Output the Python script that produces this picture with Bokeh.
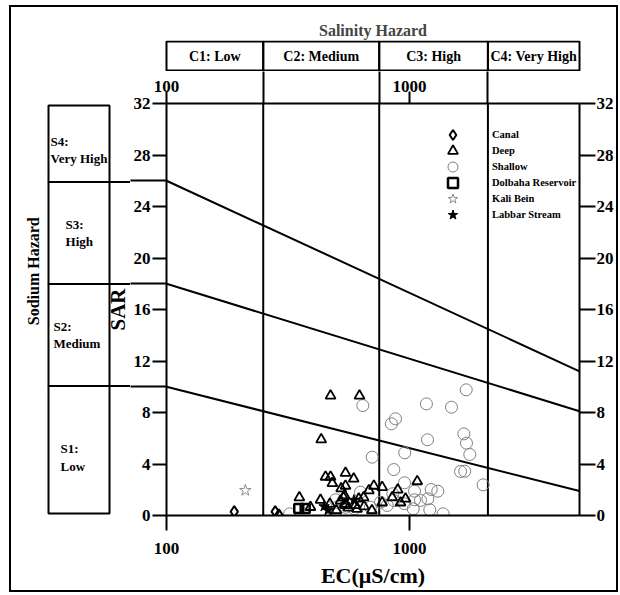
import numpy as np
from bokeh.plotting import figure
from bokeh.layouts import row, column
from bokeh.models import (Range1d, LogAxis, LinearAxis, FixedTicker, BasicTickFormatter,
                          Legend, LegendItem, Spacer)
from bokeh.embed import file_html
from bokeh.resources import INLINE
from bokeh.core.properties import value

FONT = "Liberation Serif"

# ---------------- data ----------------
canal_ec = [190, 280, 290]
canal_sar = [0.3, 0.3, 0.05]

deep_ec = [473, 622, 433, 451, 473, 545, 481, 545, 523, 352, 391, 540, 520, 541, 589,
           713, 771, 1075, 894, 680, 962, 535, 618, 647, 848, 918, 545, 599, 771, 608,
           430, 470, 500, 560, 650, 700]
deep_sar = [9.3, 9.3, 5.9, 3.0, 3.0, 3.3, 2.5, 2.3, 2.1, 1.4, 0.65, 1.55, 1.15, 0.9, 2.85,
            2.3, 2.2, 2.65, 2.0, 1.95, 1.3, 1.4, 1.3, 1.4, 1.4, 1.0, 0.8, 0.8, 1.0, 0.5,
            1.2, 0.9, 0.4, 0.6, 0.7, 0.4]

shallow_ec = [642, 1710, 1173, 1487, 875, 842, 1672, 1185, 1714, 1769, 955, 702, 861, 1620,
              1686, 2007, 953, 1048, 1227, 1306, 1048, 1109, 1189, 1035, 1211, 1374, 953,
              861, 809, 690, 593, 759, 628, 853, 321, 496, 503, 493, 545]
shallow_sar = [8.54, 9.76, 8.67, 8.41, 7.51, 7.12, 6.34, 5.88, 5.62, 4.74, 4.87, 4.53, 3.57,
               3.42, 3.44, 2.38, 2.54, 1.89, 2.02, 1.89, 1.22, 1.17, 1.30, 0.52, 0.44, 0.13,
               0.91, 1.17, 0.78, 0.64, 0.52, 1.03, 1.81, 1.69, 0.13, 1.22, 0.65, 0.13, 0.64]

dolbaha_ec = [350, 372]
dolbaha_sar = [0.55, 0.55]

kali_ec = [211]
kali_sar = [1.95]

labbar_ec = [445, 462, 590]
labbar_sar = [0.7, 0.4, 1.2]

ec_ticks = [100, 1000]
sar_ticks = [0, 4, 8, 12, 16, 20, 24, 28, 32]
salinity_bounds = [100, 250, 750, 2100, 5000]
salinity_labels = ["C1: Low", "C2: Medium", "C3: High", "C4: Very High"]
sodium_bounds = [0, 10, 18, 26, 32]
sodium_labels = ["S1:\nLow", "S2:\nMedium", "S3:\nHigh", "S4:\nVery High"]
sodium_label_sar = [4.4, 14.0, 22.0, 28.5]
line_ec = [100, 5000]
line_s1_s2 = [10, 1.9]
line_s2_s3 = [18, 8.1]
line_s3_s4 = [26, 11.2]
legend_labels = ["Canal", "Deep", "Shallow", "Dolbaha Reservoir", "Kali Bein", "Labbar Stream"]

# ---------------- main plot ----------------
x_range = Range1d(100, 5000)
y_range = Range1d(0, 32)

p = figure(width=486, height=519, x_axis_type="log", x_axis_location=None,
           y_axis_location=None, x_range=x_range, y_range=y_range,
           min_border_left=36, min_border_right=37, min_border_top=32, min_border_bottom=75,
           toolbar_location=None, output_backend="svg")
p.grid.visible = False
p.outline_line_color = None


def style_axis(ax, size="17px"):
    ax.axis_line_width = 2
    ax.axis_line_color = "black"
    ax.major_tick_line_width = 2
    ax.minor_tick_line_width = 2
    ax.major_tick_in = 0
    ax.minor_tick_in = 0
    ax.major_label_text_font = FONT
    ax.major_label_text_font_style = "bold"
    ax.major_label_text_font_size = size
    ax.major_label_text_color = "black"
    ax.axis_label_text_font = FONT
    ax.axis_label_text_font_style = "bold"
    ax.axis_label_text_font_size = "22px"
    ax.axis_label_text_color = "black"


left_ax = LinearAxis(ticker=FixedTicker(ticks=sar_ticks, minor_ticks=sodium_bounds[1:-1]))
style_axis(left_ax)
left_ax.major_tick_out = 14
left_ax.minor_tick_out = 36
left_ax.major_label_standoff = -20
p.add_layout(left_ax, "left")

right_ax = LinearAxis(ticker=FixedTicker(ticks=sar_ticks, minor_ticks=[]))
style_axis(right_ax)
right_ax.major_tick_out = 16
right_ax.minor_tick_out = 0
right_ax.major_label_standoff = 1
p.add_layout(right_ax, "right")

top_ax = LogAxis(ticker=FixedTicker(ticks=ec_ticks, minor_ticks=salinity_bounds[1:-1]),
                 formatter=BasicTickFormatter(use_scientific=False))
style_axis(top_ax)
top_ax.major_tick_out = 12
top_ax.minor_tick_out = 32
top_ax.major_label_standoff = -20
p.add_layout(top_ax, "above")

bot_ax = LogAxis(ticker=FixedTicker(ticks=ec_ticks, minor_ticks=[]),
                 formatter=BasicTickFormatter(use_scientific=False),
                 axis_label="EC(\u03bcS/cm)")
style_axis(bot_ax)
bot_ax.major_tick_out = 15
bot_ax.minor_tick_out = 0
bot_ax.major_label_standoff = 12
bot_ax.axis_label_standoff = 6
p.add_layout(bot_ax, "below")

# class boundaries
inner_ec = salinity_bounds[1:-1]
p.segment(x0=inner_ec, y0=[sodium_bounds[0]] * len(inner_ec), x1=inner_ec,
          y1=[sodium_bounds[-1]] * len(inner_ec), line_color="black", line_width=2)
for ys in (line_s1_s2, line_s2_s3, line_s3_s4):
    p.line(line_ec, ys, line_color="black", line_width=2)

r_shallow = p.scatter(shallow_ec, shallow_sar, marker="circle", size=12, fill_color=None,
                      line_color="#7f7f7f", line_width=1)
r_deep = p.scatter(deep_ec, deep_sar, marker="triangle", size=10, fill_color=None,
                   line_color="black", line_width=1.8)
r_canal = p.scatter(canal_ec, canal_sar, marker="diamond", size=11, fill_color=None,
                    line_color="black", line_width=2)
r_dolbaha = p.scatter(dolbaha_ec, dolbaha_sar, marker="square", size=9, fill_color=None,
                      line_color="black", line_width=2.5)
r_kali = p.scatter(kali_ec, kali_sar, marker="star", size=12, fill_color=None,
                   line_color="#8c8c8c", line_width=1)
r_labbar = p.scatter(labbar_ec, labbar_sar, marker="star", size=11, fill_color="black",
                     line_color="black", line_width=1)

legend_renderers = [r_canal, r_deep, r_shallow, r_dolbaha, r_kali, r_labbar]
for i, (lab, rend) in enumerate(zip(legend_labels, legend_renderers)):
    lg = Legend(items=[LegendItem(label=lab, renderers=[rend])],
                location=(274, 368 - 16 * i), glyph_width=25, glyph_height=25,
                label_height=25, spacing=0, padding=0, margin=0, label_standoff=27,
                label_text_font=FONT, label_text_font_style="bold",
                label_text_font_size="10.5px", label_text_color="black",
                border_line_color=None, background_fill_alpha=0)
    p.add_layout(lg)

# ---------------- salinity hazard boxes (top) ----------------
top = figure(width=506, height=64, x_axis_type="log", x_axis_location=None,
             y_axis_location=None,
             x_range=Range1d(100 / 10 ** (2 / 243.1), 5000 * 10 ** (2 / 243.1)),
             y_range=Range1d(0, 1),
             min_border_left=54, min_border_right=35, min_border_top=33, min_border_bottom=0,
             toolbar_location=None, output_backend="svg", title="Salinity Hazard")
top.grid.visible = False
top.outline_line_color = None
top.title.align = "center"
top.title.text_font = FONT
top.title.text_font_style = "bold"
top.title.text_font_size = "16px"
top.title.standoff = 4
sb = np.array(salinity_bounds, dtype=float)
top.quad(left=sb[:-1], right=sb[1:], bottom=1 / 31, top=1 - 1 / 31, fill_color=None,
         line_color="black", line_width=2)
top.text(x=np.sqrt(sb[:-1] * sb[1:]), y=[0.5] * 4, text=salinity_labels,
         text_font=value(FONT), text_font_style="bold", text_font_size="14px",
         text_align="center", text_baseline="middle", text_color="black")

# ---------------- sodium hazard boxes (left) + SAR label ----------------
BOX_W = 63.0      # pixel width of the hazard boxes
LEFT_PAD = 36.0   # pixels left of the boxes (for the "Sodium Hazard" title)
PANEL_W = 83.0    # pixels from the boxes' left edge to the main axis
left = figure(width=119, height=519, x_axis_location=None, y_axis_location=None,
              x_range=Range1d(-LEFT_PAD / BOX_W, PANEL_W / BOX_W),
              y_range=Range1d(-2 / 12.875, 32 + 2 / 12.875),
              min_border_left=0, min_border_right=0, min_border_top=30, min_border_bottom=73,
              toolbar_location=None, output_backend="svg")
left.grid.visible = False
left.outline_line_color = None
sd = np.array(sodium_bounds, dtype=float)
left.quad(left=1 / BOX_W, right=1 - 1 / BOX_W, bottom=sd[:-1], top=sd[1:], fill_color=None,
          line_color="black", line_width=2)
inner_sar = sodium_bounds[1:-1]
left.segment(x0=[1 - 1 / BOX_W] * 3, y0=inner_sar, x1=[PANEL_W / BOX_W] * 3, y1=inner_sar,
             line_color="black", line_width=2)
left.text(x=[0.206, 0.095, 0.286, 0.048], y=sodium_label_sar, text=sodium_labels,
          text_font=value(FONT), text_font_style="bold", text_font_size="13px",
          text_align="left", text_baseline="middle", text_color="black",
          text_line_height=1.15)
left.text(x=[(117 - 47) / BOX_W], y=[16], text=["SAR"], angle=np.pi / 2,
          text_font=value(FONT), text_font_style="bold", text_font_size="21px",
          text_align="center", text_baseline="middle", text_color="black")
left.text(x=[(33 - 47) / BOX_W], y=[19], text=["Sodium Hazard"], angle=np.pi / 2,
          text_font=value(FONT), text_font_style="bold", text_font_size="16px",
          text_align="center", text_baseline="middle", text_color="black")

layout = column(row(Spacer(width=99, height=64), top), row(left, p),
                margin=(7, 4, 5, 11), styles={"outline": "2px solid black"})

open("out.html", "w").write(file_html(layout, INLINE))
